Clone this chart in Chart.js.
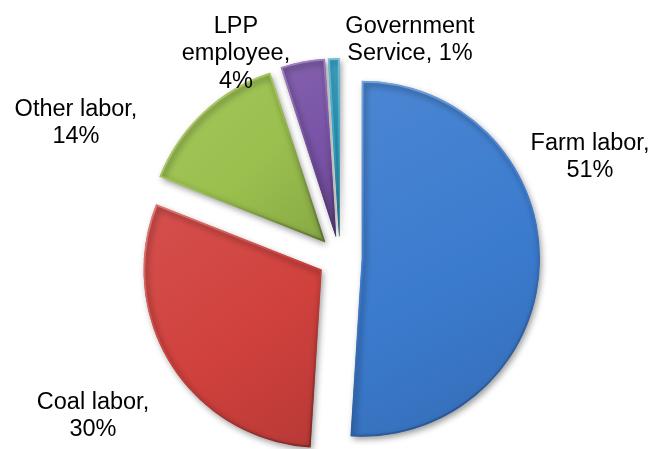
<!DOCTYPE html>
<html>
<head>
<meta charset="utf-8">
<script src="https://cdn.jsdelivr.net/npm/chart.js@4.4.0/dist/chart.umd.min.js"></script>
<style>
  html, body { margin: 0; padding: 0; background: #fff; }
  #wrap { width: 654px; height: 449px; }
</style>
</head>
<body>
<div id="wrap"><canvas id="pie" width="654" height="449"></canvas></div>
<script>
const categories = ['Farm labor', 'Coal labor', 'Other labor', 'LPP employee', 'Government Service'];
const shares = [51, 30, 14, 4, 1];
const sliceColors = ['#3B7BCE', '#D0413D', '#9BC04E', '#7852A6', '#2FA3C6'];

// where each label block sits (centre) and how wide it may wrap
const labelBoxes = [
  { x: 590, y: 157, w: 135 },
  { x: 93,  y: 416, w: 135 },
  { x: 76,  y: 123, w: 135 },
  { x: 236, y: 54,  w: 120 },
  { x: 410, y: 40,  w: 140 },
];

const RADIUS = 178;
const EXPLODE = 22;
const LABEL_FONT = '23.5px "Liberation Sans", Arial, sans-serif';
const LINE_H = 27.5;

function hexRgb(hex) {
  const n = parseInt(hex.slice(1), 16);
  return [(n >> 16) & 255, (n >> 8) & 255, n & 255];
}
function mix(hex, target, t) {
  const a = hexRgb(hex), b = hexRgb(target);
  const c = a.map((v, k) => Math.round(v + (b[k] - v) * t));
  return `rgb(${c[0]},${c[1]},${c[2]})`;
}

// bounding box of an exploded slice, from the data
function sliceGeom(chart, i) {
  const a = chart.chartArea;
  const cx = (a.left + a.right) / 2, cy = (a.top + a.bottom) / 2;
  const total = shares.reduce((s, v) => s + v, 0);
  const before = shares.slice(0, i).reduce((s, v) => s + v, 0);
  const a0 = -Math.PI / 2 + before / total * 2 * Math.PI;
  const a1 = a0 + shares[i] / total * 2 * Math.PI;
  const mid = (a0 + a1) / 2;
  const ox = cx + Math.cos(mid) * EXPLODE, oy = cy + Math.sin(mid) * EXPLODE;
  let x0 = ox, x1 = ox, y0 = oy, y1 = oy;
  for (let k = 0; k <= 24; k++) {
    const t = a0 + (a1 - a0) * k / 24;
    const px = ox + Math.cos(t) * RADIUS, py = oy + Math.sin(t) * RADIUS;
    x0 = Math.min(x0, px); x1 = Math.max(x1, px);
    y0 = Math.min(y0, py); y1 = Math.max(y1, py);
  }
  return { x0, y0, x1, y1 };
}

function sliceFill(ctx) {
  const chart = ctx.chart, i = ctx.dataIndex;
  if (!chart.chartArea || ctx.type !== 'data') return sliceColors[i];
  const b = sliceGeom(chart, i);
  const g = chart.ctx.createLinearGradient(b.x0, b.y0, b.x1, b.y1);
  g.addColorStop(0, mix(sliceColors[i], '#ffffff', 0.08));
  g.addColorStop(0.55, sliceColors[i]);
  g.addColorStop(1, mix(sliceColors[i], '#000000', 0.12));
  return g;
}

// bevelled rim: light towards the top-left, dark towards the bottom-right
function sliceRim(ctx) {
  const chart = ctx.chart, i = ctx.dataIndex;
  if (!chart.chartArea || ctx.type !== 'data') return sliceColors[i];
  const b = sliceGeom(chart, i);
  const g = chart.ctx.createLinearGradient(b.x0, b.y0, b.x1, b.y1);
  g.addColorStop(0, mix(sliceColors[i], '#ffffff', 0.32));
  g.addColorStop(0.45, sliceColors[i]);
  g.addColorStop(1, mix(sliceColors[i], '#000000', 0.4));
  return g;
}

// pull every slice out along its bisector and give the pie a soft shadow
const explode = {
  id: 'explode',
  beforeDatasetsDraw(chart) {
    const a = chart.chartArea;
    const cx = (a.left + a.right) / 2, cy = (a.top + a.bottom) / 2;
    chart.getDatasetMeta(0).data.forEach(arc => {
      const mid = (arc.startAngle + arc.endAngle) / 2;
      arc.x = cx + Math.cos(mid) * EXPLODE;
      arc.y = cy + Math.sin(mid) * EXPLODE;
    });
    const ctx = chart.ctx;
    ctx.save();
    ctx.shadowColor = 'rgba(0,0,0,0.4)';
    ctx.shadowBlur = 6;
    ctx.shadowOffsetX = 2;
    ctx.shadowOffsetY = 3;
  },
  afterDatasetsDraw(chart) {
    chart.ctx.restore();
  }
};

function wrapText(ctx, text, maxW) {
  const words = text.split(' ');
  const lines = [];
  let cur = '';
  words.forEach(w => {
    const test = cur ? cur + ' ' + w : w;
    if (cur && ctx.measureText(test).width > maxW) {
      lines.push(cur);
      cur = w;
    } else {
      cur = test;
    }
  });
  if (cur) lines.push(cur);
  return lines;
}

const sliceLabels = {
  id: 'sliceLabels',
  afterDraw(chart) {
    const ctx = chart.ctx;
    ctx.save();
    ctx.font = LABEL_FONT;
    ctx.fillStyle = '#000';
    ctx.textAlign = 'center';
    ctx.textBaseline = 'middle';
    categories.forEach((name, i) => {
      const box = labelBoxes[i];
      const lines = wrapText(ctx, `${name}, ${shares[i]}%`, box.w);
      lines.forEach((ln, k) => {
        ctx.fillText(ln, box.x, box.y + (k - (lines.length - 1) / 2) * LINE_H);
      });
    });
    ctx.restore();
  }
};

new Chart(document.getElementById('pie'), {
  type: 'pie',
  data: {
    labels: categories,
    datasets: [{
      data: shares,
      backgroundColor: sliceFill,
      borderColor: sliceRim,
      borderWidth: 1.5,
      borderAlign: 'inner',
      clip: false,
    }],
  },
  options: {
    responsive: false,
    animation: false,
    radius: RADIUS,
    layout: { padding: { left: 26, right: 0, top: 67, bottom: 0 } },
    plugins: {
      legend: { display: false },
      tooltip: { enabled: false },
    },
  },
  plugins: [explode, sliceLabels],
});
</script>
</body>
</html>
